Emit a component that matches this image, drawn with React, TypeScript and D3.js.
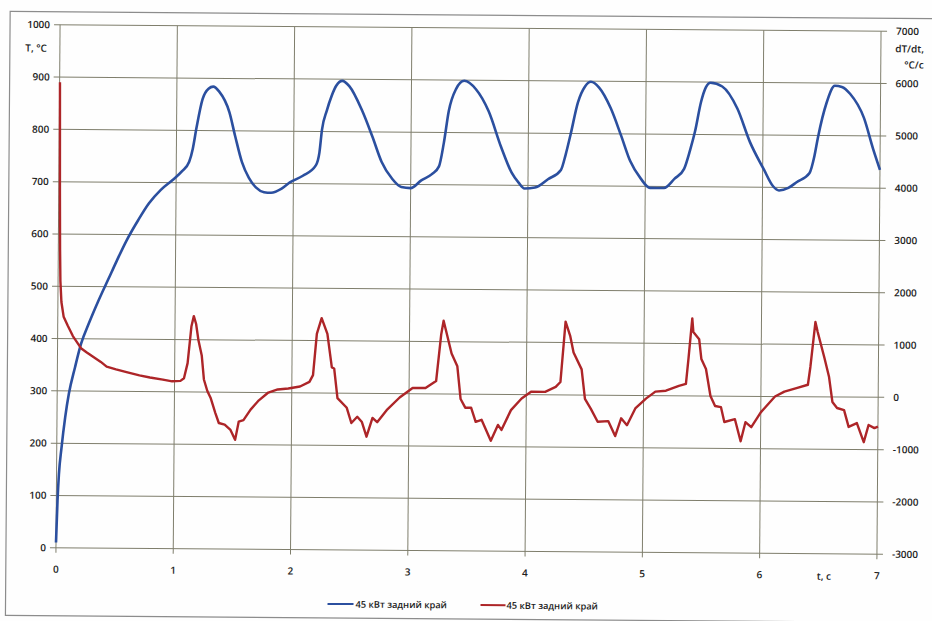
import React from 'react';
import * as d3 from 'd3';

// ---- data ----
const timeTicks = [0, 1, 2, 3, 4, 5, 6, 7];
const tempTicks = [0, 100, 200, 300, 400, 500, 600, 700, 800, 900, 1000];
const rateTicks = [-3000, -2000, -1000, 0, 1000, 2000, 3000, 4000, 5000, 6000, 7000];
const seriesNames = ['45 кВт задний край', '45 кВт задний край'];

// Temperature (left axis) — blue
const tempTime = [0, 0.01, 0.02, 0.04, 0.07, 0.1, 0.15, 0.2, 0.27, 0.34, 0.43, 0.5, 0.58, 0.68, 0.77, 0.87, 0.97, 1.05, 1.11, 1.14, 1.17, 1.22, 1.27, 1.31, 1.36, 1.45, 1.5, 1.56, 1.62, 1.68, 1.75, 1.81, 1.9, 1.97, 2.08, 2.19, 2.22, 2.24, 2.28, 2.32, 2.36, 2.41, 2.47, 2.58, 2.67, 2.75, 2.84, 2.92, 3.0, 3.09, 3.18, 3.24, 3.28, 3.32, 3.38, 3.45, 3.55, 3.66, 3.77, 3.86, 3.92, 3.97, 4.06, 4.17, 4.28, 4.32, 4.36, 4.42, 4.48, 4.53, 4.6, 4.7, 4.79, 4.87, 4.96, 5.04, 5.16, 5.25, 5.33, 5.38, 5.42, 5.47, 5.51, 5.55, 5.65, 5.78, 5.89, 6.01, 6.09, 6.14, 6.22, 6.29, 6.4, 6.44, 6.47, 6.54, 6.61, 6.67, 6.74, 6.86, 6.94, 7.0];
const tempValue = [10, 90, 140, 190, 250, 295, 345, 390, 432, 470, 515, 550, 588, 628, 660, 686, 705, 722, 740, 765, 805, 860, 880, 884, 875, 835, 790, 740, 710, 692, 683, 682, 690, 702, 715, 735, 760, 803, 840, 868, 888, 897, 887, 841, 791, 743, 711, 695, 693, 708, 720, 735, 780, 841, 883, 899, 883, 841, 772, 724, 705, 694, 696, 712, 730, 760, 798, 859, 890, 899, 888, 849, 797, 748, 715, 697, 697, 715, 734, 770, 805, 862, 890, 899, 892, 850, 786, 734, 702, 694, 699, 710, 728, 760, 797, 862, 895, 893, 880, 834, 775, 735];

// dT/dt (right axis) — red
const rateTime = [0.003, 0.006, 0.01, 0.015, 0.02, 0.03, 0.05, 0.085, 0.13, 0.2, 0.25, 0.31, 0.37, 0.42, 0.5, 0.59, 0.7, 0.79, 0.9, 0.98, 1.05, 1.08, 1.11, 1.14, 1.16, 1.18, 1.2, 1.23, 1.25, 1.28, 1.31, 1.35, 1.38, 1.43, 1.48, 1.52, 1.55, 1.59, 1.65, 1.72, 1.8, 1.88, 1.97, 2.07, 2.15, 2.18, 2.21, 2.25, 2.3, 2.34, 2.36, 2.39, 2.47, 2.51, 2.56, 2.6, 2.64, 2.69, 2.73, 2.81, 2.92, 3.03, 3.14, 3.23, 3.27, 3.29, 3.32, 3.36, 3.41, 3.44, 3.48, 3.53, 3.57, 3.62, 3.7, 3.76, 3.79, 3.87, 3.96, 4.04, 4.16, 4.25, 4.29, 4.33, 4.37, 4.4, 4.47, 4.5, 4.55, 4.61, 4.7, 4.76, 4.81, 4.86, 4.93, 5.02, 5.1, 5.19, 5.3, 5.36, 5.38, 5.41, 5.42, 5.47, 5.49, 5.53, 5.57, 5.61, 5.66, 5.69, 5.78, 5.83, 5.87, 5.92, 6.0, 6.12, 6.2, 6.31, 6.4, 6.42, 6.46, 6.48, 6.54, 6.58, 6.61, 6.65, 6.71, 6.75, 6.82, 6.88, 6.92, 6.97, 7.0];
const rateValue = [5900, 5000, 3800, 2700, 2100, 1700, 1420, 1250, 1050, 820, 740, 650, 560, 470, 420, 370, 310, 270, 230, 200, 210, 260, 550, 1250, 1450, 1300, 1000, 700, 240, 20, -120, -400, -590, -620, -720, -910, -560, -530, -330, -150, 0, 60, 80, 120, 210, 340, 1130, 1430, 1130, 490, 470, -95, -280, -570, -450, -550, -830, -470, -550, -320, -75, 110, 110, 245, 1130, 1400, 1130, 775, 530, -95, -260, -260, -530, -490, -890, -585, -680, -300, -75, 55, 55, 150, 245, 1400, 1130, 810, 490, -75, -260, -510, -495, -780, -440, -570, -250, -60, 75, 95, 190, 230, 705, 1480, 1220, 1085, 705, 515, 0, -190, -210, -495, -440, -860, -495, -590, -305, 0, 95, 170, 230, 570, 1430, 1240, 740, 380, -95, -210, -250, -570, -495, -860, -530, -590, -560];

// ---- layout ----
const W = 932;
const H = 621;
const L = 58;
const R = 879;
const T = 28;
const B = 551;
const FONT = '"Open Sans", "DejaVu Sans", sans-serif';
const GRID = '#7f7e6c';
const BLUE = '#2b4f9f';
const RED = '#ad2528';

export default function App() {
  const x = d3.scaleLinear().domain([0, 7]).range([L, R]);
  const yL = d3.scaleLinear().domain([0, 1000]).range([B, T]);
  const yR = d3.scaleLinear().domain([-3000, 7000]).range([B, T]);

  const tempPts: [number, number][] = tempTime.map((t, i) => [t, tempValue[i]]);
  const ratePts: [number, number][] = rateTime.map((t, i) => [t, rateValue[i]]);

  const tempLine = d3
    .line<[number, number]>()
    .x((d) => x(d[0]))
    .y((d) => yL(d[1]))
    .curve(d3.curveMonotoneX)(tempPts) as string;
  const rateLine = d3
    .line<[number, number]>()
    .x((d) => x(d[0]))
    .y((d) => yR(d[1]))(ratePts) as string;

  const legY = 605;

  return (
    <svg
      width={W}
      height={H}
      style={{ position: 'absolute', left: 0, top: 0, background: '#ffffff' }}
      fontFamily={FONT}
    >
      <rect x={0} y={0} width={W} height={H} fill="#fefefe" />
      <g transform={`rotate(0.45, 468, 290)`}>
        <rect x={8} y={15} width={930} height={604} fill="none" stroke="#8c8c8c" strokeWidth={1.2} />
        {tempTicks.map((v) => (
          <line key={'h' + v} x1={L - 6} x2={R + 6} y1={yL(v)} y2={yL(v)} stroke={GRID} strokeWidth={1} />
        ))}
        {timeTicks.map((t) => (
          <line key={'v' + t} x1={x(t)} x2={x(t)} y1={T} y2={B + 5} stroke={GRID} strokeWidth={1} />
        ))}
        {tempTicks.map((v) => (
          <text key={'l' + v} x={L - 10} y={yL(v) + 3.5} textAnchor="end" fontSize={10} fontWeight={600} fill="#222">
            {v}
          </text>
        ))}
        {rateTicks.map((v) => (
          <text key={'r' + v} x={R + 15} y={yR(v) + 3.5} textAnchor="start" fontSize={10} fontWeight={600} fill="#222">
            {v}
          </text>
        ))}
        {timeTicks.map((t) => (
          <text key={'b' + t} x={x(t)} y={B + 25} textAnchor="middle" fontSize={10} fontWeight={600} fill="#222">
            {t}
          </text>
        ))}
        <text x={L - 13} y={T + 27} textAnchor="end" fontSize={10} fontWeight={600} fill="#222">
          T, °C
        </text>
        <text x={R + 43} y={T + 21} textAnchor="end" fontSize={10} fontWeight={600} fill="#222">
          dT/dt,
        </text>
        <text x={R + 43} y={T + 37} textAnchor="end" fontSize={10} fontWeight={600} fill="#222">
          °C/c
        </text>
        <text x={x(6.55)} y={B + 26} textAnchor="middle" fontSize={10} fontWeight={600} fill="#222">
          t, c
        </text>

        <path d={tempLine} fill="none" stroke={BLUE} strokeWidth={2.6} strokeLinejoin="round" />
        <path d={rateLine} fill="none" stroke={RED} strokeWidth={2.4} strokeLinejoin="round" />

        <line x1={330} x2={356} y1={legY} y2={legY} stroke={BLUE} strokeWidth={2} />
        <text x={358} y={legY + 3.5} fontSize={9.3} fontWeight={600} fill="#222">
          {seriesNames[0]}
        </text>
        <line x1={483} x2={508} y1={legY} y2={legY} stroke={RED} strokeWidth={2} />
        <text x={509} y={legY + 3.5} fontSize={9.3} fontWeight={600} fill="#222">
          {seriesNames[1]}
        </text>
      </g>
    </svg>
  );
}
